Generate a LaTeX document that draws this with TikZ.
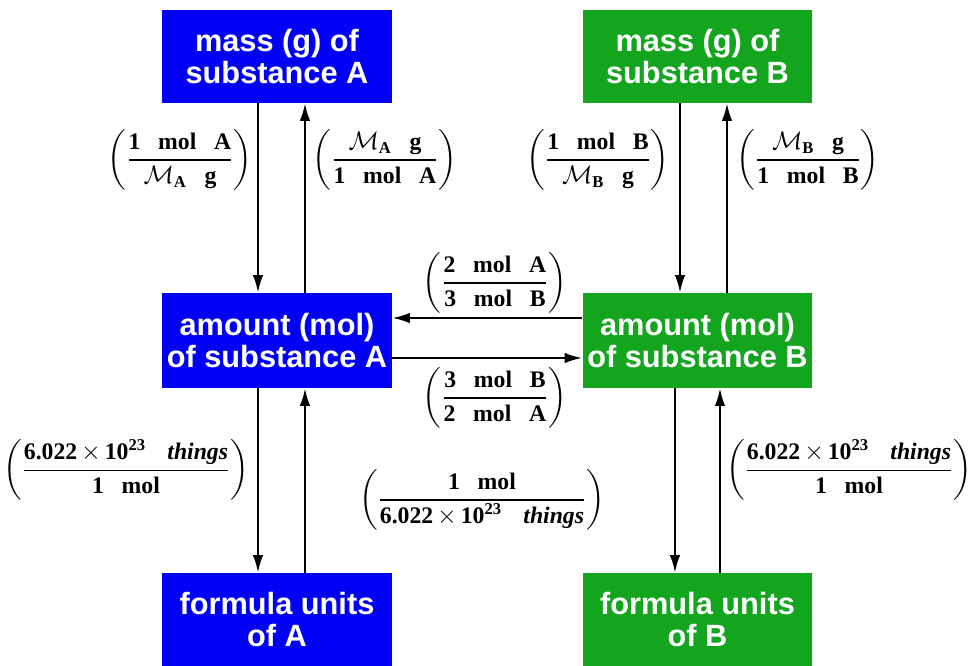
\documentclass[tikz,border=0pt]{standalone}
\usepackage{amsmath}
\usepackage{fontspec}
\setmainfont{Liberation Serif}
\newfontfamily\boxfont{Liberation Sans}
\usetikzlibrary{arrows.meta}
\definecolor{boxblue}{RGB}{0,0,245}
\definecolor{boxgreen}{RGB}{20,165,30}
\newcommand{\cf}[2]{$\left(\dfrac{\vphantom{Ag}\text{\bfseries #1}}{\vphantom{Ag}\text{\bfseries #2}}\right)$}
\newcommand{\gp}{\hspace{0.75em}}
\newcommand{\MM}[1]{$\mathcal{M}_{\textbf{#1}}$}
\newcommand{\av}{6.022\,$\times$\,10$^{\text{\bfseries 23}}$\hspace{0.9em}\textit{things}}
\tikzset{
  qbox/.style={minimum width=4.6cm, align=center, inner sep=0pt,
    font=\boxfont\bfseries\fontsize{17.5}{18.5}\selectfont, text=white},
  bluebox/.style={qbox, fill=boxblue},
  greenbox/.style={qbox, fill=boxgreen},
  arr/.style={line width=1.3pt, -{Latex[length=10pt,width=6pt]}},
  conv/.style={inner sep=0pt, font=\fontsize{13.5}{15}\selectfont}
}
\begin{document}
\begin{tikzpicture}[x=0.02cm,y=-0.02cm]
\useasboundingbox (0,0) rectangle (971,666);
\node[bluebox, minimum height=1.86cm] (massA) at (277,56.5) {mass (g) of\\substance A};
\node[greenbox, minimum height=1.86cm] (massB) at (697.5,56.5) {mass (g) of\\substance B};
\node[bluebox, minimum height=1.9cm] (amtA) at (277,340.5) {amount (mol)\\of substance A};
\node[greenbox, minimum height=1.9cm] (amtB) at (697.5,340.5) {amount (mol)\\of substance B};
\node[bluebox, minimum height=1.86cm] (fuA) at (277,619.5) {formula units\\of A};
\node[greenbox, minimum height=1.86cm] (fuB) at (697.5,619.5) {formula units\\of B};

\draw[arr] ([xshift=-0.38cm]massA.south) -- ([xshift=-0.38cm]amtA.north);
\draw[arr] ([xshift=0.56cm]amtA.north) -- ([xshift=0.56cm]massA.south);
\draw[arr] ([xshift=-0.35cm]massB.south) -- ([xshift=-0.35cm]amtB.north);
\draw[arr] ([xshift=0.59cm]amtB.north) -- ([xshift=0.59cm]massB.south);
\draw[arr] ([xshift=-0.38cm]amtA.south) -- ([xshift=-0.38cm]fuA.north);
\draw[arr] ([xshift=0.56cm]fuA.north) -- ([xshift=0.56cm]amtA.south);
\draw[arr] ([xshift=-0.45cm]amtB.south) -- ([xshift=-0.45cm]fuB.north);
\draw[arr] ([xshift=0.45cm]fuB.north) -- ([xshift=0.45cm]amtB.south);
\draw[arr] ([yshift=0.45cm]amtB.west) -- ([yshift=0.45cm]amtA.east);
\draw[arr] ([yshift=-0.35cm]amtA.east) -- ([yshift=-0.35cm]amtB.west);

\node[conv] (l1) at (180,160) {\cf{1\gp mol\gp A}{\MM{A}\gp g}};
\node[conv] (l2) at (385,160) {\cf{\MM{A}\gp g}{1\gp mol\gp A}};
\node[conv] (l3) at (598,160) {\cf{1\gp mol\gp B}{\MM{B}\gp g}};
\node[conv] (l4) at (808,160) {\cf{\MM{B}\gp g}{1\gp mol\gp B}};
\node[conv] (l5) at (495,283) {\cf{2\gp mol\gp A}{3\gp mol\gp B}};
\node[conv] (l6) at (495,398) {\cf{3\gp mol\gp B}{2\gp mol\gp A}};
\node[conv] (l7) at (126,470) {\cf{\av}{1\gp mol}};
\node[conv] (l8) at (482,500) {\cf{1\gp mol}{\av}};
\node[conv] (l9) at (849,470) {\cf{\av}{1\gp mol}};
\end{tikzpicture}
\end{document}
